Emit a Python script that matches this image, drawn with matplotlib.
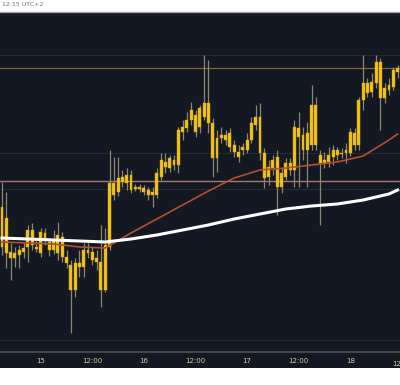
import numpy as np
import matplotlib
matplotlib.use("Agg")
import matplotlib.pyplot as plt

# hourly candles, prices in chart units
body_hi = [193, 182, 148, 147, 150, 152, 170, 170, 153, 168, 167, 158, 160, 165, 163, 143,
           135, 137, 137, 150, 150, 148, 142, 138, 155, 217, 217, 222, 223, 225, 225, 213,
           213, 212, 210, 208, 227, 240, 238, 242, 240, 270, 273, 280, 290, 285, 292, 297,
           297, 277, 262, 265, 265, 267, 255, 248, 253, 260, 277, 283, 283, 247, 233, 240,
           243, 227, 237, 237, 273, 272, 265, 267, 295, 295, 245, 240, 245, 250, 250, 247,
           250, 268, 267, 300, 317, 317, 318, 338, 338, 312, 315, 330, 332]
body_lo = [153, 147, 142, 142, 145, 148, 153, 155, 151, 147, 160, 150, 150, 147, 143, 137,
           110, 110, 133, 133, 147, 140, 138, 110, 110, 153, 205, 208, 218, 217, 210, 211,
           211, 208, 205, 205, 205, 223, 233, 232, 235, 235, 268, 272, 280, 268, 273, 283,
           277, 242, 242, 262, 260, 253, 248, 243, 250, 250, 260, 275, 247, 222, 223, 232,
           213, 213, 223, 230, 230, 263, 250, 250, 255, 255, 237, 237, 238, 243, 245, 246,
           247, 247, 255, 255, 300, 307, 308, 317, 302, 302, 310, 313, 328]
wick_hi = [218, 208, 157, 153, 155, 157, 175, 177, 160, 172, 172, 162, 170, 178, 168, 150,
           140, 142, 150, 157, 157, 153, 150, 175, 172, 250, 243, 243, 230, 232, 230, 216,
           216, 215, 213, 213, 232, 247, 247, 245, 245, 273, 280, 288, 298, 290, 295, 345,
           340, 282, 270, 273, 270, 272, 260, 255, 257, 267, 283, 295, 297, 252, 240, 245,
           250, 232, 242, 242, 280, 288, 273, 278, 315, 303, 250, 248, 253, 255, 253, 252,
           257, 272, 272, 303, 345, 322, 327, 345, 342, 317, 322, 333, 335]
wick_lo = [145, 132, 120, 133, 132, 142, 138, 150, 148, 143, 155, 144, 146, 140, 138, 132,
           67, 103, 123, 123, 142, 135, 130, 93, 108, 150, 200, 204, 213, 210, 207, 209,
           208, 205, 200, 193, 202, 220, 227, 228, 230, 227, 260, 268, 275, 263, 267, 280,
           267, 223, 228, 257, 255, 248, 243, 238, 245, 247, 257, 270, 240, 212, 215, 225,
           185, 207, 220, 225, 213, 213, 240, 213, 250, 250, 175, 232, 233, 235, 240, 242,
           237, 244, 250, 250, 290, 303, 303, 312, 270, 297, 305, 310, 322]
hours = np.arange(len(body_hi))

# moving averages read every 6 hours
ma_hours = [0, 6, 12, 18, 24, 30, 36, 42, 48, 54, 60, 66, 72, 78, 84, 90, 92]
ma_slow = [162, 161, 160, 159, 158, 161, 165, 170, 175, 181, 186, 191, 194, 196, 200, 206, 210]
ma_fast = [158, 157, 156, 153, 152, 167, 181, 195, 209, 222, 230, 232, 235, 238, 244, 260, 266]

levels_main = [332, 219]
levels_faint = [345, 247, 211, 60]

tick_hours = [9, 21, 33, 45, 57, 69, 81]
tick_labels = ["15", "12:00", "16", "12:00", "17", "12:00", "18"]

bg = "#141823"
fig = plt.figure(figsize=(4, 3.85), dpi=100, facecolor="white")

panel = fig.add_axes([0, 17 / 385, 1, 356 / 385])
panel.set_facecolor(bg)
panel.set_xticks([])
panel.set_yticks([])
for s in panel.spines.values():
    s.set_visible(False)
panel.spines["top"].set_visible(True)
panel.spines["top"].set_color("#9a9ea8")
panel.spines["top"].set_linewidth(1)

ax = fig.add_axes([0, 33 / 385, 1, 340 / 385])
ax.set_facecolor("none")

for lv in levels_faint:
    ax.axhline(lv, color="#262b38", lw=0.7, zorder=1)
ax.axhline(levels_main[0], color="#8a6a30", lw=0.8, zorder=1)
ax.axhline(levels_main[1], color="#a87a72", lw=1.0, zorder=1)

ax.vlines(hours, wick_lo, wick_hi, color="#8c8672", lw=0.9, zorder=2)
ax.bar(hours, np.array(body_hi) - np.array(body_lo), bottom=body_lo, width=0.68,
       color="#f2c21c", edgecolor="#d9a90e", linewidth=0.3, zorder=3)

ax.plot(ma_hours, ma_fast, color="#b4502c", lw=1.2, zorder=4)
ax.plot(ma_hours, ma_slow, color="white", lw=2.2, zorder=5)

ax.set_xlim(-0.47, 92.56)
ax.set_ylim(48, 388)
ax.set_yticks([])
ax.set_xticks(tick_hours)
ax.set_xticklabels(tick_labels)
ax.tick_params(axis="x", length=0, pad=4, labelsize=5, labelcolor="#d6caa0")
for s in ["top", "left", "right"]:
    ax.spines[s].set_visible(False)
ax.spines["bottom"].set_color("#505050")
ax.spines["bottom"].set_linewidth(1.2)
ax.text(93, -0.025, "12:00", transform=ax.get_xaxis_transform(), ha="center", va="top",
        fontsize=5, color="#d6caa0", clip_on=False)

fig.text(0.004, 1 - 5 / 385, "12:15 UTC+2", fontsize=4.5, color="#777777", va="center")

fig.savefig("out.png", dpi=100)
